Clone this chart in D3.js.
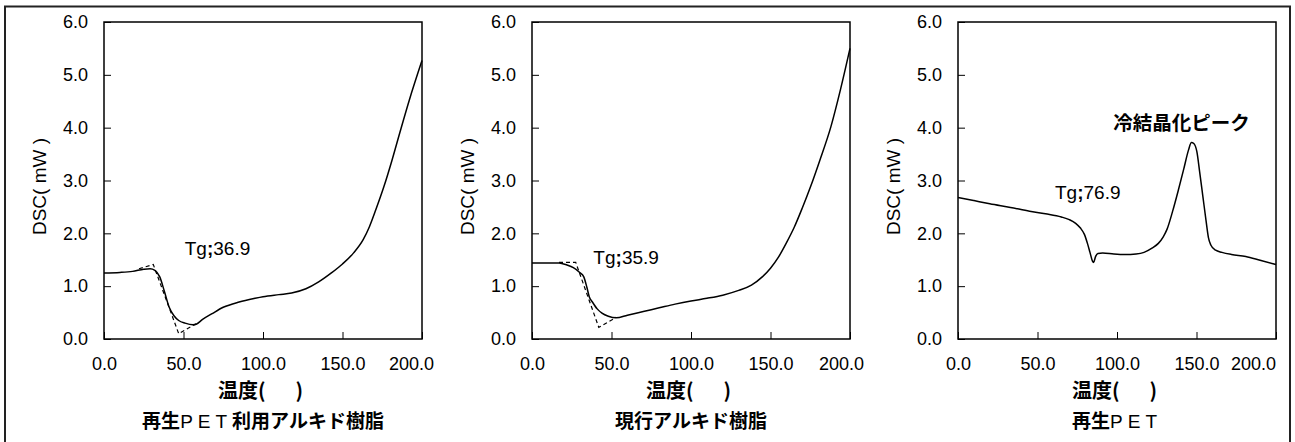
<!DOCTYPE html>
<html>
<head>
<meta charset="utf-8">
<script src="https://cdn.jsdelivr.net/npm/d3@7"></script>
<style>
  body { margin: 0; background: #fff; }
  svg { display: block; font-family: "Liberation Sans", Arial, "Noto Sans CJK JP", sans-serif; }
</style>
</head>
<body>
<svg id="chart" width="1295" height="442"></svg>
<script>
// ---- data ----
const xTicks = [0, 50, 100, 150, 200]
const yTicks = [0, 1, 2, 3, 4, 5, 6]
const titles = ["再生PET利用アルキド樹脂", "現行アルキド樹脂", "再生PET"]
const yTitle = "DSC( mW )"
const xTitleParts = ["温度(", ")"]

// 再生PET利用アルキド樹脂
const temp1 = [0, 10, 18, 25, 29, 32, 35, 38, 41, 44, 47, 51, 56, 58, 62, 68, 75, 85, 95, 100, 110, 118, 127, 135, 143, 150, 157, 163, 167, 171, 176, 181, 186, 192, 200]
const dsc1  = [1.25, 1.26, 1.28, 1.32, 1.33, 1.30, 1.18, 0.90, 0.60, 0.44, 0.35, 0.30, 0.27, 0.28, 0.37, 0.48, 0.60, 0.70, 0.77, 0.80, 0.84, 0.87, 0.95, 1.08, 1.25, 1.42, 1.63, 1.88, 2.13, 2.45, 2.88, 3.37, 3.90, 4.52, 5.27]
const tan1T = [22, 31, 47, 58]
const tan1D = [1.33, 1.41, 0.10, 0.29]

// 現行アルキド樹脂
const temp2 = [0, 10, 17, 22, 26, 30, 32.5, 34.5, 36, 38, 41, 44, 48, 53, 60, 70, 80, 90, 100, 110, 120, 130, 138, 145, 150, 155, 160, 165, 170, 175.4, 181, 188, 194, 200]
const dsc2  = [1.44, 1.44, 1.44, 1.40, 1.35, 1.26, 1.18, 0.98, 0.80, 0.70, 0.57, 0.49, 0.43, 0.40, 0.45, 0.52, 0.59, 0.66, 0.72, 0.77, 0.83, 0.92, 1.02, 1.18, 1.34, 1.55, 1.82, 2.12, 2.48, 2.90, 3.38, 4.02, 4.72, 5.50]
const tan2T = [17, 27.5, 42, 53]
const tan2D = [1.45, 1.45, 0.22, 0.41]

// 再生PET
const temp3 = [0, 10, 20, 33, 45, 55, 65, 70, 74, 77, 79.5, 81.5, 83, 84.5, 85.3, 86.5, 88, 91, 98, 105, 112, 117, 122, 126, 129, 131.5, 135, 138.6, 142, 145, 146.8, 148.3, 150.2, 152, 154, 156, 157.5, 159, 162, 166, 172, 181, 190, 200]
const dsc3  = [2.68, 2.62, 2.56, 2.49, 2.42, 2.37, 2.31, 2.26, 2.19, 2.10, 1.98, 1.80, 1.64, 1.48, 1.45, 1.56, 1.62, 1.63, 1.61, 1.60, 1.61, 1.64, 1.72, 1.81, 1.93, 2.08, 2.42, 2.82, 3.22, 3.58, 3.72, 3.70, 3.55, 3.16, 2.70, 2.24, 1.92, 1.78, 1.68, 1.64, 1.60, 1.56, 1.49, 1.41]

// annotations: text, anchor in data units
const tgLabels = ["Tg;36.9", "Tg;35.9", "Tg;76.9"]
const tgAt = [[50.8, 1.59], [38.6, 1.42], [61, 2.65]]
const peakLabel = "冷結晶化ピーク"
const peakAt = [97.7, 3.96]

// ---- layout ----
const plotLeft = [104, 532, 958]
const lastLabelShift = [-11, -9, -23]
const TOP = 22, W = 318, H = 317

const svg = d3.select("#chart")

// outer frame (bottom edge runs off the picture)
svg.append("rect")
    .attr("x", 5).attr("y", 6.5)
    .attr("width", 1285).attr("height", 480)
    .attr("fill", "none")
    .attr("stroke", "#222")
    .attr("stroke-width", 2)

const series = [
    { t: temp1, d: dsc1, tt: tan1T, td: tan1D },
    { t: temp2, d: dsc2, tt: tan2T, td: tan2D },
    { t: temp3, d: dsc3, tt: null, td: null }
]

const fmt = d3.format(".1f")

series.forEach((s, i) => {
    const g = svg.append("g")
        .attr("transform", "translate(" + plotLeft[i] + "," + TOP + ")")

    const x = d3.scaleLinear().domain([0, 200]).range([0, W])
    const y = d3.scaleLinear().domain([0, 6]).range([H, 0])

    const xAxis = g.append("g")
        .attr("transform", "translate(0," + H + ")")
        .call(d3.axisBottom(x).tickValues(xTicks).tickFormat(fmt)
            .tickSizeInner(-7).tickSizeOuter(0).tickPadding(18))
        .attr("font-size", 18)
        .attr("font-family", "Liberation Sans, Arial, sans-serif")
    xAxis.select(".domain").remove()
    xAxis.selectAll(".tick text")
        .attr("fill", "#000")
        .filter(d => d === 200)
        .attr("dx", lastLabelShift[i])

    const yAxis = g.append("g")
        .call(d3.axisLeft(y).tickValues(yTicks).tickFormat(fmt)
            .tickSizeInner(-7).tickSizeOuter(0).tickPadding(16))
        .attr("font-size", 18)
        .attr("font-family", "Liberation Sans, Arial, sans-serif")
    yAxis.select(".domain").remove()
    yAxis.selectAll(".tick text").attr("fill", "#000")

    // plot box
    g.append("rect")
        .attr("width", W).attr("height", H)
        .attr("fill", "none")
        .attr("stroke", "#000")
        .attr("stroke-width", 1.5)

    const line = d3.line()
        .x(j => x(j[0]))
        .y(j => y(j[1]))

    // tangent construction (dashed)
    if (s.tt) {
        g.append("path")
            .datum(d3.zip(s.tt, s.td))
            .attr("d", line.curve(d3.curveLinear))
            .attr("fill", "none")
            .attr("stroke", "#000")
            .attr("stroke-width", 1.2)
            .attr("stroke-dasharray", "4,3")
    }

    g.append("path")
        .datum(d3.zip(s.t, s.d))
        .attr("d", line.curve(d3.curveMonotoneX))
        .attr("fill", "none")
        .attr("stroke", "#000")
        .attr("stroke-width", 1.5)

    // Tg label
    const tg = g.append("text")
        .attr("x", x(tgAt[i][0]))
        .attr("y", y(tgAt[i][1]))
        .attr("font-size", 19)
        .attr("fill", "#000")
    const parts = tgLabels[i].split(";")
    tg.append("tspan").text(parts[0])
    tg.append("tspan").attr("font-weight", "bold").text(";")
    tg.append("tspan").text(parts[1])

    if (i === 2) {
        g.append("text")
            .attr("x", x(peakAt[0]))
            .attr("y", y(peakAt[1]))
            .attr("font-family", "Noto Sans CJK JP, sans-serif")
            .attr("font-weight", "bold")
            .attr("font-size", 19.5)
            .text(peakLabel)
    }

    // y title
    g.append("text")
        .attr("transform", "translate(-65," + (H / 2 + 6) + ") rotate(-90)")
        .attr("text-anchor", "middle")
        .attr("dy", "0.35em")
        .attr("font-size", 19)
        .attr("fill", "#000")
        .text(yTitle)

    // x title
    const xt = g.append("text")
        .attr("x", W / 2 - 45)
        .attr("y", H + 59)
        .attr("font-family", "Noto Sans CJK JP, sans-serif")
        .attr("font-weight", "bold")
        .attr("font-size", 20)
    xt.append("tspan").text(xTitleParts[0])
    xt.append("tspan").attr("dx", 30).text(xTitleParts[1])

    // panel caption
    const cap = g.append("text")
        .attr("x", W / 2)
        .attr("y", H + 89)
        .attr("text-anchor", "middle")
        .attr("font-family", "Noto Sans CJK JP, sans-serif")
        .attr("font-weight", "bold")
        .attr("font-size", 19)
    titles[i].split(/(PET)/).filter(t => t.length).forEach(t => {
        if (t === "PET") {
            cap.append("tspan")
                .attr("font-family", "Liberation Sans, Arial, sans-serif")
                .attr("font-weight", "normal")
                .attr("letter-spacing", 5)
                .text(t)
        } else {
            cap.append("tspan").text(t)
        }
    })
})
</script>
</body>
</html>
